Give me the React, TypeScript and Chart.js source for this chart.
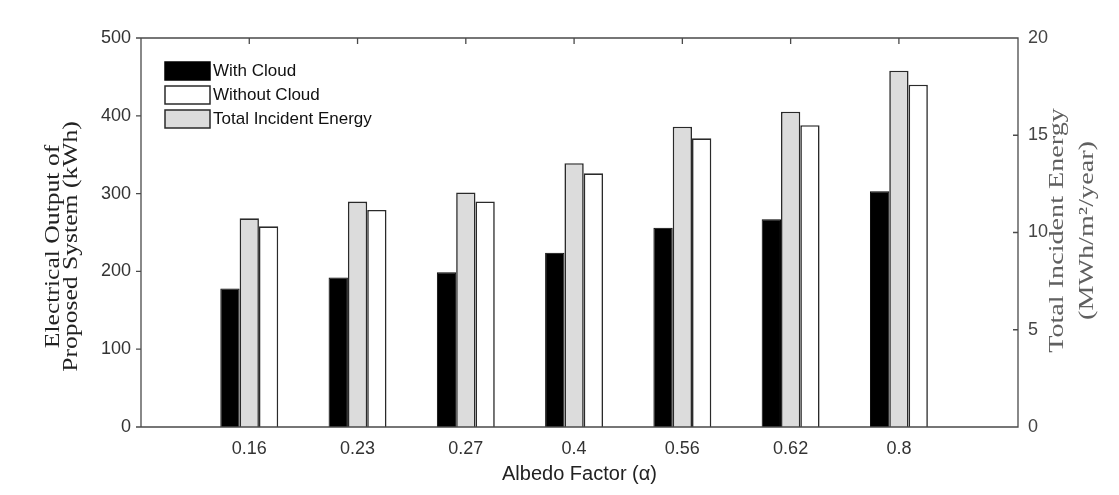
import React, { useEffect, useRef } from 'react';
import { Chart, registerables } from 'chart.js';

Chart.register(...registerables);

// ---- Data ----
const albedoLabels = ['0.16', '0.23', '0.27', '0.4', '0.56', '0.62', '0.8'];
const withCloud = [178, 192, 199, 224, 256, 267, 303];            // kWh (left axis)
const withoutCloud = [258, 279, 290, 326, 371, 388, 440];         // kWh (left axis)
const totalIncident = [10.73, 11.59, 12.06, 13.56, 15.44, 16.21, 18.32]; // MWh/m2/year (right axis)
const leftTickValues = [0, 100, 200, 300, 400, 500];
const rightTickValues = [0, 5, 10, 15, 20];

const legendItems = [
  { label: 'With Cloud', fill: '#000000', stroke: '#000000' },
  { label: 'Without Cloud', fill: '#ffffff', stroke: '#2a2a2a' },
  { label: 'Total Incident Energy', fill: '#dcdcdc', stroke: '#2a2a2a' },
];

const SANS = '"Liberation Sans", Arial, sans-serif';
const SERIF = '"Liberation Serif", "Times New Roman", serif';

const toXY = (arr: number[]) => arr.map((v, i) => ({ x: i + 1, y: v }));

function drawStretchedLines(
  ctx: CanvasRenderingContext2D,
  lines: { text: string; dy: number }[],
  cx: number,
  cy: number,
  font: string,
  sx: number,
  color: string
) {
  ctx.save();
  ctx.translate(cx, cy);
  ctx.rotate(-Math.PI / 2);
  ctx.scale(sx, 1);
  ctx.font = font;
  ctx.fillStyle = color;
  ctx.textAlign = 'center';
  ctx.textBaseline = 'middle';
  lines.forEach((l) => ctx.fillText(l.text, 0, l.dy));
  ctx.restore();
}

const framePlugin = {
  id: 'framePlugin',
  afterDatasetsDraw(chart: any) {
    const { ctx, chartArea, scales } = chart;
    const { left, right, top, bottom } = chartArea;
    ctx.save();
    ctx.strokeStyle = '#4a4a4a';
    ctx.lineWidth = 1.3;
    ctx.beginPath();
    ctx.rect(left, top, right - left, bottom - top);
    scales.y.ticks.forEach((t: any) => {
      const y = scales.y.getPixelForValue(t.value);
      ctx.moveTo(left - 5, y);
      ctx.lineTo(left, y);
    });
    scales.y2.ticks.forEach((t: any) => {
      const y = scales.y2.getPixelForValue(t.value);
      ctx.moveTo(right - 5, y);
      ctx.lineTo(right, y);
    });
    scales.x.ticks.forEach((t: any) => {
      const x = scales.x.getPixelForValue(t.value);
      ctx.moveTo(x, top);
      ctx.lineTo(x, top + 6);
    });
    ctx.stroke();
    ctx.restore();
  },
  afterDraw(chart: any) {
    const { ctx, chartArea } = chart;
    const { left, top, bottom } = chartArea;
    const midY = (top + bottom) / 2;

    // Left axis title
    drawStretchedLines(
      ctx,
      [
        { text: 'Electrical Output of', dy: -9 },
        { text: 'Proposed System (kWh)', dy: 9 },
      ],
      62,
      midY + 14,
      `21px ${SERIF}`,
      1.22,
      '#222222'
    );

    // Right axis title
    drawStretchedLines(
      ctx,
      [
        { text: 'Total Incident Energy', dy: -15 },
        { text: '(MWh/m\u00B2/year)', dy: 15 },
      ],
      1072,
      midY - 2,
      `22px ${SERIF}`,
      1.28,
      '#606060'
    );

    // Legend
    ctx.save();
    const sx0 = left + 24;
    const sy0 = top + 24;
    const rowH = 24;
    ctx.font = `17px ${SANS}`;
    ctx.textBaseline = 'middle';
    ctx.textAlign = 'left';
    legendItems.forEach((it, i) => {
      const y = sy0 + i * rowH;
      ctx.fillStyle = it.fill;
      ctx.fillRect(sx0, y, 45, 18);
      ctx.strokeStyle = it.stroke;
      ctx.lineWidth = 1.5;
      ctx.strokeRect(sx0, y, 45, 18);
      ctx.fillStyle = '#111111';
      ctx.fillText(it.label, sx0 + 48, y + 9.5);
    });
    ctx.restore();
  },
};

const bgPlugin = {
  id: 'bgPlugin',
  beforeDraw(chart: any) {
    const { ctx, width, height } = chart;
    ctx.save();
    ctx.fillStyle = '#ffffff';
    ctx.fillRect(0, 0, width, height);
    ctx.restore();
  },
};

export default function App() {
  const canvasRef = useRef<HTMLCanvasElement | null>(null);

  useEffect(() => {
    document.body.style.margin = '0';
    const canvas = canvasRef.current;
    if (!canvas) return;
    const barCommon = {
      barPercentage: 1.0,
      categoryPercentage: 0.535,
      grouped: true,
    };
    const chart = new Chart(canvas, {
      type: 'bar',
      data: {
        datasets: [
          {
            label: 'With Cloud',
            data: toXY(withCloud),
            backgroundColor: '#000000',
            borderColor: '#000000',
            borderWidth: 1,
            yAxisID: 'y',
            ...barCommon,
          },
          {
            label: 'Total Incident Energy',
            data: toXY(totalIncident),
            backgroundColor: '#dcdcdc',
            borderColor: '#2a2a2a',
            borderWidth: 1.6,
            yAxisID: 'y2',
            ...barCommon,
          },
          {
            label: 'Without Cloud',
            data: toXY(withoutCloud),
            backgroundColor: '#ffffff',
            borderColor: '#2a2a2a',
            borderWidth: 1.6,
            yAxisID: 'y',
            ...barCommon,
          },
        ],
      },
      options: {
        responsive: false,
        animation: false,
        devicePixelRatio: 1,
        layout: { padding: { top: 38, left: 0, right: 0, bottom: 0 } },
        plugins: {
          legend: { display: false },
          tooltip: { enabled: false },
          title: { display: false },
        },
        scales: {
          x: {
            type: 'linear',
            min: 0,
            max: 8.1,
            offset: false,
            grid: { display: false, drawTicks: false },
            border: { display: false },
            afterBuildTicks: (scale: any) => {
              scale.ticks = albedoLabels.map((_, i) => ({ value: i + 1 }));
            },
            afterFit: (scale: any) => {
              scale.height = 68;
            },
            ticks: {
              autoSkip: false,
              maxRotation: 0,
              padding: 11,
              color: '#333333',
              font: { family: SANS, size: 18 },
              callback: (v: any) => {
                const idx = Math.round(Number(v)) - 1;
                return albedoLabels[idx] ?? '';
              },
            },
            title: {
              display: true,
              text: 'Albedo Factor (\u03B1)',
              color: '#222222',
              font: { family: SANS, size: 20 },
              padding: { top: 0, bottom: 9 },
            },
          },
          y: {
            type: 'linear',
            position: 'left',
            min: 0,
            max: 500,
            grid: { display: false, drawTicks: false },
            border: { display: false },
            afterBuildTicks: (scale: any) => {
              scale.ticks = leftTickValues.map((v) => ({ value: v }));
            },
            afterFit: (scale: any) => {
              scale.width = 141;
            },
            ticks: {
              padding: 10,
              color: '#333333',
              font: { family: SANS, size: 18 },
            },
          },
          y2: {
            type: 'linear',
            position: 'right',
            min: 0,
            max: 20,
            grid: { display: false, drawTicks: false },
            border: { display: false },
            afterBuildTicks: (scale: any) => {
              scale.ticks = rightTickValues.map((v) => ({ value: v }));
            },
            afterFit: (scale: any) => {
              scale.width = 101;
            },
            ticks: {
              padding: 10,
              color: '#444444',
              font: { family: SANS, size: 18 },
            },
          },
        },
      } as any,
      plugins: [bgPlugin, framePlugin],
    });
    return () => chart.destroy();
  }, []);

  return (
    <div style={{ width: 1119, height: 495 }}>
      <canvas ref={canvasRef} width={1119} height={495} />
    </div>
  );
}
